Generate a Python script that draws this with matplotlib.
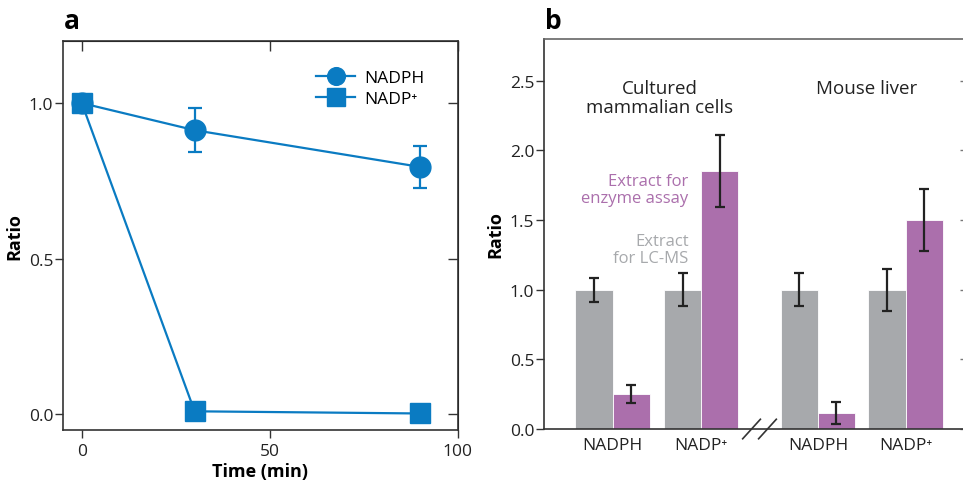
import numpy as np
import matplotlib
matplotlib.use("Agg")
import matplotlib.pyplot as plt

plt.rcParams["font.family"] = ["Open Sans", "DejaVu Sans"]
plt.rcParams["font.size"] = 12.5

BLUE = "#0a7bc2"
GRAY = "#a7a9ac"
PURPLE = "#ab6fac"
DARK = "#333333"

# panel a: time course
time_min = [0, 30, 90]
nadph_ratio = [1.0, 0.913, 0.795]
nadph_err = [0.0, 0.07, 0.068]
nadp_ratio = [1.0, 0.01, 0.003]

# panel b: extraction comparison
groups = ["Cultured\nmammalian cells", "Mouse liver"]
bar_labels = ["NADPH", "NADP⁺", "NADPH", "NADP⁺"]
lcms_vals = [1.0, 1.0, 1.0, 1.0]
lcms_err = [0.085, 0.12, 0.12, 0.15]
enzyme_vals = [0.25, 1.85, 0.115, 1.50]
enzyme_err = [0.065, 0.26, 0.08, 0.22]

fig = plt.figure(figsize=(9.63, 4.81), dpi=100)

# -----------------------------
# Panel a
# -----------------------------
ax = fig.add_axes([0.0654, 0.104, 0.410, 0.809])
ax.errorbar(time_min, nadph_ratio, yerr=nadph_err, fmt="none", ecolor=BLUE,
            capsize=5, capthick=1.6, elinewidth=1.6, zorder=3)
ax.plot(time_min, nadph_ratio, color=BLUE, lw=1.6, marker="o", ms=15,
        label="NADPH", zorder=3)
ax.plot(time_min, nadp_ratio, color=BLUE, lw=1.6, marker="s", ms=15,
        label="NADP⁺", zorder=3)
ax.set_xlim(-5, 100)
ax.set_ylim(-0.05, 1.2)
ax.set_xticks([0, 50, 100])
ax.set_yticks([0, 0.5, 1.0])
ax.set_yticklabels(["0.0", "0.5", "1.0"])
ax.tick_params(direction="out", length=6, width=1, color=DARK, labelcolor="#222222")
ax.tick_params(axis="y", pad=1)
for s in ax.spines.values():
    s.set_color(DARK)
    s.set_linewidth(1.2)
top = ax.secondary_xaxis("top")
top.set_xticks([0, 50, 100])
top.tick_params(direction="in", length=7, width=1, color=DARK, labeltop=False)
right = ax.secondary_yaxis("right")
right.set_yticks([0, 0.5, 1.0])
right.tick_params(direction="in", length=7, width=1, color=DARK, labelright=False)
ax.set_xlabel("Time (min)", fontweight="bold", fontsize=13, labelpad=2)
ax.set_ylabel("Ratio", fontweight="bold", fontsize=13, labelpad=4)
ax.legend(loc="upper right", bbox_to_anchor=(0.955, 0.965), frameon=False,
          fontsize=12.5, handlelength=2.3, markerscale=0.85, labelspacing=0.25,
          handletextpad=0.5)
fig.text(0.066, 0.955, "a", fontsize=19, fontweight="bold", va="center")

# -----------------------------
# Panel b
# -----------------------------
bx = fig.add_axes([0.565, 0.106, 0.4424, 0.811])
pos = np.array([0, 1, 2.32, 3.31])
w = 0.42
bx.bar(pos - w / 2, lcms_vals, w, color=GRAY, edgecolor="white", linewidth=0.6)
bx.bar(pos + w / 2, enzyme_vals, w, color=PURPLE, edgecolor="white", linewidth=0.6)
bx.errorbar(pos - w / 2, lcms_vals, yerr=lcms_err, fmt="none", ecolor="#222222",
            elinewidth=1.6, capsize=3.5, capthick=1.6)
bx.errorbar(pos + w / 2, enzyme_vals, yerr=enzyme_err, fmt="none", ecolor="#222222",
            elinewidth=1.6, capsize=3.5, capthick=1.6)
bx.set_xlim(-0.774, 4.04)
bx.set_ylim(0, 2.8)
bx.set_xticks(pos)
bx.set_xticklabels(bar_labels)
bx.tick_params(axis="x", length=0, pad=6, labelcolor="#222222")
bx.set_yticks([0, 0.5, 1.0, 1.5, 2.0, 2.5])
bx.set_yticklabels(["0.0", "0.5", "1.0", "1.5", "2.0", "2.5"])
bx.tick_params(axis="y", direction="out", length=6, width=1, color=DARK,
               labelcolor="#222222", pad=1)
rb = bx.secondary_yaxis("right")
rb.set_yticks([0, 0.5, 1.0, 1.5, 2.0, 2.5])
rb.tick_params(direction="in", length=7, width=1, color="#777777", labelright=False)
for s in bx.spines.values():
    s.set_color(DARK)
    s.set_linewidth(1.2)
bx.spines["top"].set_color("#666666")
bx.set_ylabel("Ratio", fontweight="bold", fontsize=13, labelpad=4)

# axis break marks between the two groups
xb = (pos[1] + pos[2]) / 2
for dx in (-0.09, 0.09):
    bx.plot([xb + dx - 0.1, xb + dx + 0.1], [-0.07, 0.07], color=DARK, lw=1.2,
            clip_on=False, zorder=5)

bx.text((pos[0] + pos[1]) / 2 + 0.03, 2.38, groups[0], ha="center", va="center",
        fontsize=13.5, color="#222222", linespacing=1.1)
bx.text((pos[2] + pos[3]) / 2 + 0.05, 2.45, groups[1], ha="center", va="center",
        fontsize=13.5, color="#222222")
bx.text(0.86, 1.72, "Extract for\nenzyme assay", ha="right", va="center",
        fontsize=12, color=PURPLE, linespacing=1.1)
bx.text(0.86, 1.29, "Extract\nfor LC-MS", ha="right", va="center",
        fontsize=12, color=GRAY, linespacing=1.1)
fig.text(0.566, 0.955, "b", fontsize=19, fontweight="bold", va="center")

fig.savefig("out.png", dpi=100)
